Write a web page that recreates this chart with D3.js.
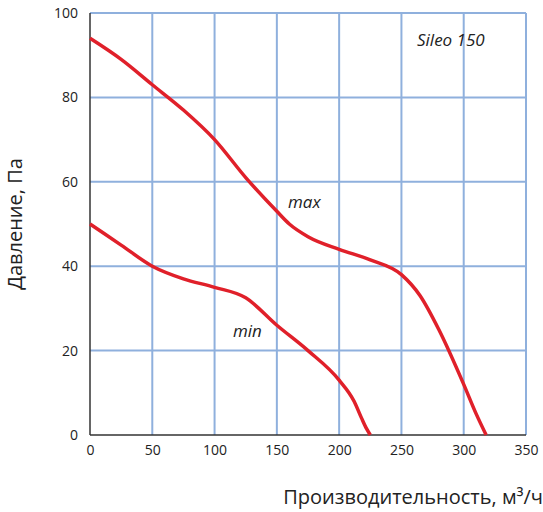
<!DOCTYPE html><html><head><meta charset="utf-8"><script src="https://cdn.jsdelivr.net/npm/d3@7"></script>
<style>body{margin:0;background:#fff}</style></head><body><svg id="c" width="543" height="512"></svg><script>
const xTicks=[0,50,100,150,200,250,300,350];
const yTicks=[0,20,40,60,80,100];
const maxX=[0,25,50,75,100,125,150,160,175,200,225,250,265,280,300,310,318];
const maxY=[94,89,83,77,70,61,53,50,47,44,41.5,38,33,25,12,5,0];
const minX=[0,25,50,75,100,125,150,175,200,212,218,222,225];
const minY=[50,45,40,37,35,32.5,26,20,13,8,4,1.5,0];
const svg=d3.select("#c");
const x=d3.scaleLinear().domain([0,350]).range([90,526]);
const y=d3.scaleLinear().domain([0,100]).range([435,13]);
const g=svg.append("g");
g.selectAll(".vx").data(xTicks.slice(1)).join("line").attr("x1",x).attr("x2",x).attr("y1",y(0)).attr("y2",y(100)).attr("stroke","#8fb0dd").attr("stroke-width",2);
g.selectAll(".hy").data(yTicks.slice(1)).join("line").attr("y1",y).attr("y2",y).attr("x1",x(0)).attr("x2",x(350)).attr("stroke","#8fb0dd").attr("stroke-width",2);
svg.append("line").attr("x1",x(0)).attr("x2",x(0)).attr("y1",y(0)).attr("y2",y(100)).attr("stroke","#333").attr("stroke-width",1.5);
svg.append("line").attr("x1",x(0)).attr("x2",x(350)).attr("y1",y(0)).attr("y2",y(0)).attr("stroke","#333").attr("stroke-width",1.5);
const xa=svg.append("g").attr("transform",`translate(0,${y(0)})`).call(d3.axisBottom(x).tickValues(xTicks).tickSize(0).tickPadding(10));
const ya=svg.append("g").attr("transform",`translate(${x(0)},0)`).call(d3.axisLeft(y).tickValues(yTicks).tickSize(0).tickPadding(12));
[xa,ya].forEach(a=>{a.select(".domain").remove();a.selectAll("text").attr("font-family","Open Sans, sans-serif").attr("font-size",14).attr("fill","#222");});
const line=d3.line().x(d=>x(d[0])).y(d=>y(d[1])).curve(d3.curveMonotoneX);
svg.append("path").attr("d",line(maxX.map((v,i)=>[v,maxY[i]]))).attr("fill","none").attr("stroke","#e0202a").attr("stroke-width",3.5);
svg.append("path").attr("d",line(minX.map((v,i)=>[v,minY[i]]))).attr("fill","none").attr("stroke","#e0202a").attr("stroke-width",3.5);
const t=(tx,ty,s,sz,st,anch)=>svg.append("text").attr("x",tx).attr("y",ty).text(s).attr("font-family","Open Sans, sans-serif").attr("font-size",sz).attr("font-style",st||"normal").attr("fill","#222").attr("text-anchor",anch||"start");
t(288,208,"max",17,"italic");
t(233,337,"min",17,"italic");
t(417,46,"Sileo 150",17,"italic");
t(543,504,"Производительность, м³/ч",20,"normal","end");
svg.append("text").attr("transform","translate(22,224) rotate(-90)").attr("text-anchor","middle").text("Давление, Па").attr("font-family","Open Sans, sans-serif").attr("font-size",20).attr("fill","#222");
</script></body></html>
